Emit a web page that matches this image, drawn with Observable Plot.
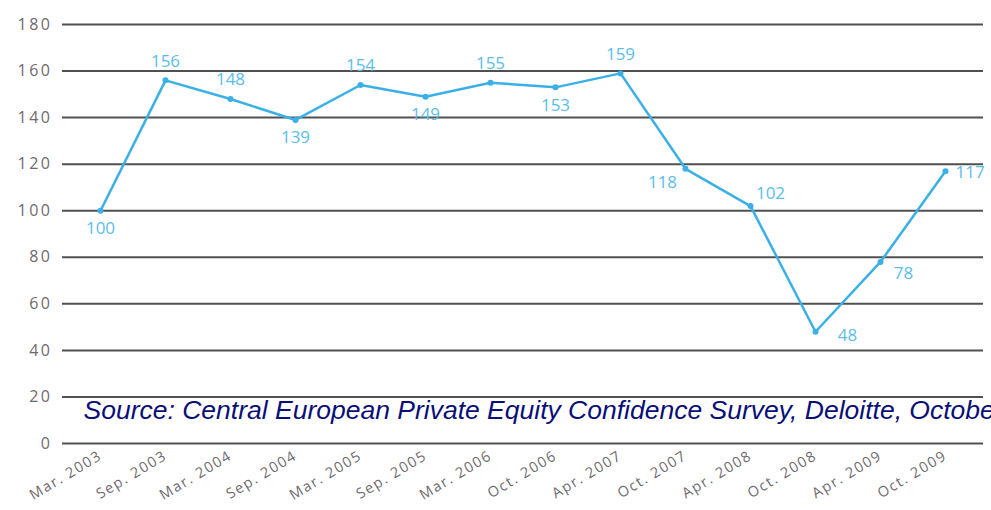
<!DOCTYPE html>
<html><head><meta charset="utf-8">
<script src="https://cdn.jsdelivr.net/npm/d3@7"></script>
<script src="https://cdn.jsdelivr.net/npm/@observablehq/plot@0.6"></script>
<style>body{margin:0;background:#fff;overflow:hidden}</style>
</head><body><div id="chart"></div>
<script>
const periods = ["Mar. 2003","Sep. 2003","Mar. 2004","Sep. 2004","Mar. 2005","Sep. 2005","Mar. 2006","Oct. 2006","Apr. 2007","Oct. 2007","Apr. 2008","Oct. 2008","Apr. 2009","Oct. 2009"];
const values = [100,156,148,139,154,149,155,153,159,118,102,48,78,117];
const yTicks = [0,20,40,60,80,100,120,140,160,180];
const sourceNote = "Source: Central European Private Equity Confidence Survey, Deloitte, October 2009";

const data = periods.map((p, i) => ({period: p, value: values[i], i}));
// label placement (style only)
const place = ["below","above","above","below","above","below","above","below","above","bl","ar","r","br","rr"];
const lineColor = "#3ab0e6";
const labelColor = "#5cbdea";
const lbl = (key, opts) => Plot.text(data.filter(d => place[d.i] === key), {
  x: "period", y: "value", text: d => String(d.value), fill: labelColor,
  fontSize: 17, fontFamily: "Open Sans", ...opts
});

const chart = Plot.plot({
  width: 991, height: 510,
  marginLeft: 62, marginRight: 8, marginTop: 24, marginBottom: 67,
  style: {fontFamily: "Open Sans", color: "#6e6a70", background: "#fff"},
  x: {type: "point", domain: periods, padding: 0.53, label: null},
  y: {domain: [0, 180], label: null},
  marks: [
    Plot.ruleY(yTicks, {stroke: "#505050", strokeWidth: 2}),
    Plot.axisY({ticks: yTicks, tickSize: 0, tickPadding: 10, fontSize: 16, label: null}),
    Plot.axisX({tickSize: 0, tickPadding: 11, tickRotate: -31, fontSize: 14.5, label: null}),
    Plot.line(data, {x: "period", y: "value", stroke: lineColor, strokeWidth: 2.5}),
    Plot.dot(data, {x: "period", y: "value", fill: lineColor, r: 3}),
    lbl("below", {dy: 18}),
    lbl("above", {dy: -19}),
    lbl("bl", {dx: -23, dy: 14}),
    lbl("ar", {dx: 20, dy: -13}),
    lbl("r", {dx: 32, dy: 4}),
    lbl("br", {dx: 23, dy: 12}),
    lbl("rr", {dx: 10, dy: 1, textAnchor: "start"}),
    Plot.text([sourceNote], {frameAnchor: "bottom-left", dx: 21, dy: -25, textAnchor: "start",
      fill: "#0a0f78", fontSize: 26.5, fontStyle: "italic", fontFamily: "Liberation Sans"})
  ]
});
chart.querySelectorAll('g[aria-label="x-axis tick label"] text').forEach(t => t.style.letterSpacing = "1.5px");
chart.querySelectorAll('g[aria-label="y-axis tick label"] text').forEach(t => t.style.letterSpacing = "2.5px");
chart.querySelectorAll('text').forEach(t => { if (/^\d+$/.test(t.textContent) && t.getAttribute("fill") === labelColor) t.style.letterSpacing = "1.5px"; });
document.getElementById("chart").append(chart);
</script>
</body></html>
